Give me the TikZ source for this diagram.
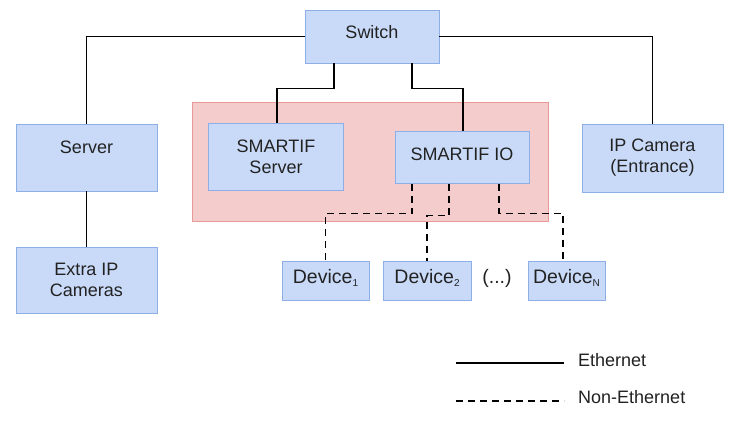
\documentclass[tikz,border=0pt]{standalone}
\usepackage{fontspec}
\setmainfont{Liberation Sans}
\definecolor{boxfill}{HTML}{C9DAF8}
\definecolor{boxdraw}{HTML}{8EAEE8}
\definecolor{pinkfill}{HTML}{F4CCCC}
\definecolor{pinkdraw}{HTML}{EA9999}
\definecolor{txt}{HTML}{222222}
\newcommand{\devsub}[1]{\raisebox{-3pt}{\fontsize{10}{10}\selectfont #1}}
\begin{document}
\begin{tikzpicture}[x=1pt,y=-1pt,
  every node/.style={font=\fontsize{18}{21}\selectfont, text=txt},
  bluebox/.style={draw=boxdraw, fill=boxfill, line width=0.8pt, align=center, inner sep=0pt},
  oneline/.style={text height=13pt, text depth=8pt},
  devbox/.style={bluebox, oneline, font=\fontsize{19.5}{22}\selectfont, minimum height=39pt},
  eth/.style={draw=black, line width=1.8pt},
  noneth/.style={draw=black, line width=1.8pt, dash pattern=on 7pt off 5pt}]
\useasboundingbox[fill=white] (0,0) rectangle (741,428);
% group background
\node[draw=pinkdraw, fill=pinkfill, line width=0.8pt, minimum width=356pt, minimum height=119pt, inner sep=0pt] (grp) at (370,161.5) {};
% boxes
\node[bluebox, oneline, minimum width=134pt, minimum height=53pt] (sw) at (372,36.5) {Switch};
\node[bluebox, minimum width=141pt, minimum height=67pt] (srv) at (86.5,157.5) {Server\\\mbox{}};
\node[bluebox, minimum width=141pt, minimum height=66pt] (ext) at (86.5,280) {Extra IP\\Cameras};
\node[bluebox, minimum width=135pt, minimum height=67pt] (ss) at (276,157) {SMARTIF\\Server};
\node[bluebox, oneline, minimum width=134pt, minimum height=52pt] (io) at (462,157.5) {SMARTIF IO};
\node[bluebox, minimum width=141pt, minimum height=68pt] (cam) at (652.5,158) {IP Camera\\(Entrance)};
\node[devbox, minimum width=87pt] (d1) at (325.5,280.5) {Device\devsub{1}};
\node[devbox, minimum width=88pt] (d2) at (427,280.5) {Device\devsub{2}};
\node[oneline, font=\fontsize{19.5}{22}\selectfont] (dots) at (497,281) {(...)};
\node[devbox, minimum width=77pt] (dN) at (566.5,280.5) {Device\devsub{N}};
% ethernet connectors
\draw[eth] (sw.west) -| (srv.north);
\draw[eth] (sw.east) -| (cam.north);
\draw[eth] (srv.south) -- (ext.north);
\draw[eth] ([xshift=-38pt]sw.south) -- ++(0,25) -| ([xshift=1pt]ss.north);
\draw[eth] ([xshift=40pt]sw.south) -- ++(0,25) -| ([xshift=1pt]io.north);
% non-ethernet connectors
\draw[noneth] ([xshift=-50pt]io.south) -- ++(0,29.5) -| (d1.north);
\draw[noneth] ([xshift=-13pt]io.south) -- ++(0,31.5) -| (d2.north);
\draw[noneth] ([xshift=37pt]io.south) -- ++(0,29.5) -| ([xshift=-3.5pt]dN.north);
% legend
\coordinate (la) at (456,363);
\coordinate (lb) at (564,363);
\coordinate (lc) at (456,401);
\coordinate (ld) at (564,401);
\draw[eth] (la) -- (lb);
\draw[noneth] (lc) -- (ld);
\node[anchor=west, inner sep=0pt] (le) at (578,360) {Ethernet};
\node[anchor=west, inner sep=0pt] (ln) at (578,397) {Non-Ethernet};
\end{tikzpicture}
\end{document}
